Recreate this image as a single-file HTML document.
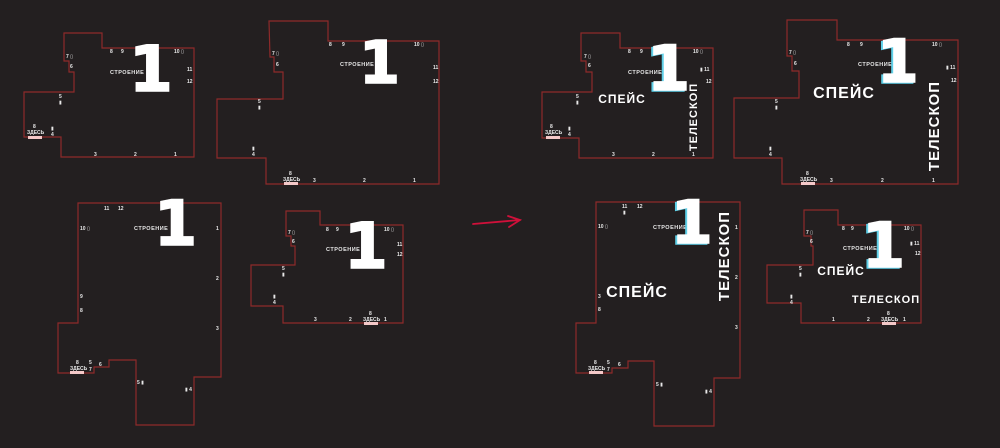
<!DOCTYPE html>
<html><head><meta charset="utf-8"><style>
html,body{margin:0;padding:0;background:#231f20;}
svg{display:block}
text{font-family:"Liberation Sans","DejaVu Sans",sans-serif;fill:#fff;}
.s{font-size:5px;font-weight:bold;fill:#e8e8e8}
.st{font-size:5.5px;font-weight:bold;letter-spacing:0.5px;fill:#e8e8e8}
.big{font-family:"DejaVu Sans",sans-serif;font-weight:bold;fill:#fff;stroke:#fff;stroke-width:1.6;stroke-linejoin:miter}
.bl{font-family:"DejaVu Sans",sans-serif;font-weight:bold;fill:#5fd0e8;stroke:#5fd0e8;stroke-width:1.6}
.w{font-weight:bold;letter-spacing:1px;fill:#fff}
polygon{fill:none;stroke:#8e2a2a;stroke-width:1.2}
.u{fill:#f4c8c8}
</style></head><body>
<svg width="1000" height="448" viewBox="0 0 1000 448" xmlns="http://www.w3.org/2000/svg">
<rect width="1000" height="448" fill="#231f20"/>

<!-- Plan 1 -->
<polygon points="64,33 102,33 102,48 194,48 194,157 61,157 61,137 24,137 24,92 74,92 74,72 69,72 69,61 64,61"/>
<text class="st" x="110" y="74">СТРОЕНИЕ</text>
<text class="big" x="129" y="91" font-size="63">1</text>
<text class="s" x="110" y="53">8</text><text class="s" x="121" y="53">9</text><text class="s" x="174" y="53">10 ▯</text>
<text class="s" x="66" y="58">7 ▯</text><text class="s" x="70" y="68">6</text>
<text class="s" x="187" y="71">11</text><text class="s" x="187" y="83">12</text>
<text class="s" x="59" y="98">5</text><text class="s" x="59" y="104">▮</text>
<text class="s" x="51" y="130">▮</text><text class="s" x="51" y="136">4</text>
<text class="s" x="33" y="128">8</text><text class="s" x="27" y="134">ЗДЕСЬ</text>
<rect class="u" x="28" y="136" width="14" height="3"/>
<text class="s" x="94" y="156">3</text><text class="s" x="134" y="156">2</text><text class="s" x="174" y="156">1</text>

<!-- Plan 2 -->
<polygon points="269,21 328,21 328,41 439,41 439,184 266,184 266,158 217,158 217,99 283,99 283,72 274,72 274,57 270,57"/>
<text class="st" x="340" y="66">СТРОЕНИЕ</text>
<text class="big" x="359" y="83" font-size="59">1</text>
<text class="s" x="329" y="46">8</text><text class="s" x="342" y="46">9</text><text class="s" x="414" y="46">10 ▯</text>
<text class="s" x="272" y="55">7 ▯</text><text class="s" x="276" y="66">6</text>
<text class="s" x="433" y="69">11</text><text class="s" x="433" y="83">12</text>
<text class="s" x="258" y="103">5</text><text class="s" x="258" y="109">▮</text>
<text class="s" x="252" y="150">▮</text><text class="s" x="252" y="156">4</text>
<text class="s" x="289" y="175">8</text><text class="s" x="283" y="181">ЗДЕСЬ</text>
<rect class="u" x="284" y="182" width="14" height="3"/>
<text class="s" x="313" y="182">3</text><text class="s" x="363" y="182">2</text><text class="s" x="413" y="182">1</text>

<!-- Plan 3 -->
<polygon points="78,203 221,203 221,377 194,377 194,425 136,425 136,360 109,360 109,367 94,367 94,373 58,373 58,323 78,323"/>
<text class="st" x="134" y="230">СТРОЕНИЕ</text>
<text class="big" x="154" y="245" font-size="62">1</text>
<text class="s" x="104" y="210">11</text><text class="s" x="118" y="210">12</text>
<text class="s" x="80" y="230">10 ▯</text>
<text class="s" x="216" y="230">1</text><text class="s" x="216" y="280">2</text><text class="s" x="216" y="330">3</text>
<text class="s" x="80" y="298">9</text><text class="s" x="80" y="312">8</text>
<text class="s" x="76" y="364">8</text><text class="s" x="70" y="370">ЗДЕСЬ</text>
<rect class="u" x="70" y="371" width="14" height="3"/>
<text class="s" x="89" y="364">5</text><text class="s" x="89" y="371">7</text><text class="s" x="99" y="366">6</text>
<text class="s" x="137" y="384">5 ▮</text><text class="s" x="185" y="391">▮ 4</text>

<!-- Plan 4 -->
<polygon points="286,211 320,211 320,225 403,225 403,323 283,323 283,306 251,306 251,265 295,265 295,246 291,246 291,236 286,236"/>
<text class="st" x="326" y="251">СТРОЕНИЕ</text>
<text class="big" x="344" y="268" font-size="63">1</text>
<text class="s" x="326" y="231">8</text><text class="s" x="336" y="231">9</text><text class="s" x="384" y="231">10 ▯</text>
<text class="s" x="288" y="234">7 ▯</text><text class="s" x="292" y="243">6</text>
<text class="s" x="397" y="246">11</text><text class="s" x="397" y="256">12</text>
<text class="s" x="282" y="270">5</text><text class="s" x="282" y="276">▮</text>
<text class="s" x="273" y="298">▮</text><text class="s" x="273" y="304">4</text>
<text class="s" x="369" y="315">8</text><text class="s" x="363" y="321">ЗДЕСЬ</text>
<rect class="u" x="364" y="322" width="14" height="3"/>
<text class="s" x="314" y="321">3</text><text class="s" x="349" y="321">2</text><text class="s" x="384" y="321">1</text>

<!-- Arrow -->
<g stroke="#d0103a" stroke-width="1.8" fill="none" stroke-linecap="round">
<path d="M473,224 L520,220"/><path d="M508,216 L520,220 L509,227"/>
</g>

<!-- Plan 5 -->
<polygon points="581,33 620,33 620,48 713,48 713,158 579,158 579,138 542,138 542,92 592,92 592,72 586,72 586,61 581,61"/>
<text class="st" x="628" y="74">СТРОЕНИЕ</text>
<text class="bl" x="645" y="91" font-size="62">1</text>
<text class="big" x="647" y="90" font-size="62">1</text>
<text class="w" x="622" y="103" font-size="12" text-anchor="middle">СПЕЙС</text>
<text class="w" transform="translate(697,117) rotate(-90)" font-size="11" text-anchor="middle">ТЕЛЕСКОП</text>
<text class="s" x="628" y="53">8</text><text class="s" x="640" y="53">9</text><text class="s" x="693" y="53">10 ▯</text>
<text class="s" x="584" y="58">7 ▯</text><text class="s" x="588" y="67">6</text>
<text class="s" x="700" y="71">▮ 11</text><text class="s" x="706" y="83">12</text>
<text class="s" x="576" y="98">5</text><text class="s" x="576" y="104">▮</text>
<text class="s" x="568" y="130">▮</text><text class="s" x="568" y="136">4</text>
<text class="s" x="550" y="128">8</text><text class="s" x="545" y="134">ЗДЕСЬ</text>
<rect class="u" x="546" y="136" width="14" height="3"/>
<text class="s" x="612" y="156">3</text><text class="s" x="652" y="156">2</text><text class="s" x="692" y="156">1</text>

<!-- Plan 6 -->
<polygon points="787,20 837,20 837,40 958,40 958,184 782,184 782,158 734,158 734,98 799,98 799,71 792,71 792,56 787,56"/>
<text class="st" x="858" y="66">СТРОЕНИЕ</text>
<text class="bl" x="875" y="83" font-size="60">1</text>
<text class="big" x="877" y="82" font-size="60">1</text>
<text class="w" x="844" y="98" font-size="16" text-anchor="middle">СПЕЙС</text>
<text class="w" transform="translate(939,126) rotate(-90)" font-size="15" text-anchor="middle">ТЕЛЕСКОП</text>
<text class="s" x="847" y="46">8</text><text class="s" x="860" y="46">9</text><text class="s" x="932" y="46">10 ▯</text>
<text class="s" x="789" y="54">7 ▯</text><text class="s" x="794" y="65">6</text>
<text class="s" x="946" y="69">▮ 11</text><text class="s" x="951" y="82">12</text>
<text class="s" x="775" y="103">5</text><text class="s" x="775" y="109">▮</text>
<text class="s" x="769" y="150">▮</text><text class="s" x="769" y="156">4</text>
<text class="s" x="806" y="175">8</text><text class="s" x="800" y="181">ЗДЕСЬ</text>
<rect class="u" x="801" y="182" width="14" height="3"/>
<text class="s" x="830" y="182">3</text><text class="s" x="881" y="182">2</text><text class="s" x="932" y="182">1</text>

<!-- Plan 7 -->
<polygon points="596,202 740,202 740,378 714,378 714,426 654,426 654,361 628,361 628,368 612,368 612,373 576,373 576,323 596,323"/>
<text class="st" x="653" y="229">СТРОЕНИЕ</text>
<text class="bl" x="669" y="244" font-size="60">1</text>
<text class="big" x="671" y="243" font-size="60">1</text>
<text class="w" x="637" y="297" font-size="16" text-anchor="middle">СПЕЙС</text>
<text class="w" transform="translate(729,256) rotate(-90)" font-size="15" text-anchor="middle">ТЕЛЕСКОП</text>
<text class="s" x="622" y="208">11</text><text class="s" x="637" y="208">12</text><text class="s" x="623" y="214">▮</text>
<text class="s" x="598" y="228">10 ▯</text>
<text class="s" x="735" y="229">1</text><text class="s" x="735" y="279">2</text><text class="s" x="735" y="329">3</text>
<text class="s" x="598" y="298">3</text><text class="s" x="598" y="311">8</text>
<text class="s" x="594" y="364">8</text><text class="s" x="588" y="370">ЗДЕСЬ</text>
<rect class="u" x="589" y="371" width="14" height="3"/>
<text class="s" x="607" y="364">5</text><text class="s" x="607" y="371">7</text><text class="s" x="618" y="366">6</text>
<text class="s" x="656" y="386">5 ▮</text><text class="s" x="705" y="393">▮ 4</text>

<!-- Plan 8 -->
<polygon points="804,210 838,210 838,225 921,225 921,323 801,323 801,303 767,303 767,265 813,265 813,246 811,246 811,236 804,236"/>
<text class="st" x="843" y="250">СТРОЕНИЕ</text>
<text class="bl" x="860" y="268" font-size="62">1</text>
<text class="big" x="862" y="267" font-size="62">1</text>
<text class="w" x="841" y="275" font-size="12" text-anchor="middle">СПЕЙС</text>
<text class="w" x="886" y="303" font-size="11" text-anchor="middle">ТЕЛЕСКОП</text>
<text class="s" x="842" y="230">8</text><text class="s" x="851" y="230">9</text><text class="s" x="904" y="230">10 ▯</text>
<text class="s" x="806" y="234">7 ▯</text><text class="s" x="810" y="243">6</text>
<text class="s" x="910" y="245">▮ 11</text><text class="s" x="915" y="255">12</text>
<text class="s" x="799" y="270">5</text><text class="s" x="799" y="276">▮</text>
<text class="s" x="790" y="298">▮</text><text class="s" x="790" y="304">4</text>
<text class="s" x="887" y="315">8</text><text class="s" x="881" y="321">ЗДЕСЬ</text>
<rect class="u" x="882" y="322" width="14" height="3"/>
<text class="s" x="832" y="321">1</text><text class="s" x="867" y="321">2</text><text class="s" x="903" y="321">1</text>
</svg>
</body></html>
